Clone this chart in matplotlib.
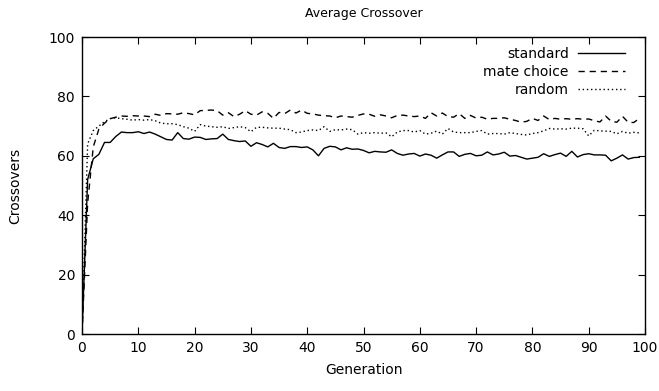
import numpy as np
import matplotlib
matplotlib.use("Agg")
import matplotlib.pyplot as plt

# average crossovers per generation
generations = list(range(100))

standard = [
    0, 52, 59, 60.5, 64.5, 64.5, 66.5, 68, 67.8, 67.8,
    68.1, 67.5, 68, 67.3, 66.4, 65.5, 65.3, 67.8, 65.8, 65.6,
    66.3, 66.2, 65.5, 65.7, 65.8, 67.3, 65.5, 65.1, 64.8, 65,
    63.2, 64.4, 63.8, 63, 64.2, 62.8, 62.5, 63.1, 63.1, 62.8,
    63, 62, 60, 62.5, 63.2, 63, 62, 62.7, 62.2, 62.3,
    61.8, 61, 61.5, 61.3, 61.2, 62, 60.8, 60.2, 60.6, 60.8,
    59.9, 60.6, 60.2, 59.2, 60.3, 61.3, 61.3, 59.8, 60.5, 60.8,
    60, 60.2, 61.3, 60.3, 60.6, 61.2, 59.9, 60.1, 59.5, 58.9,
    59.2, 59.5, 60.7, 59.8, 60.4, 60.9, 59.8, 61.5, 59.6, 60.4,
    60.7, 60.3, 60.3, 60.2, 58.3, 59.2, 60.3, 58.9, 59.4, 59.5,
]

mate_choice = [
    0, 44, 63, 69, 71, 72.5, 73, 73.4, 73.3, 73.5,
    73.4, 73.4, 73.2, 74, 73.6, 74.2, 74.1, 74, 74.5, 74.2,
    73.8, 75.2, 75.3, 75.4, 75.2, 73.7, 74.5, 73.2, 74, 75.2,
    74, 73.7, 74.8, 74.3, 72.6, 74.6, 74.2, 75.4, 74.4, 75.4,
    74.3, 74.1, 73.7, 73.5, 73.4, 72.8, 73.4, 73.2, 73, 73.6,
    74.1, 74, 73.3, 73.8, 73.4, 72.8, 73.6, 73.7, 73.4, 73.2,
    73.4, 72.6, 74.5, 73.4, 74.4, 73.2, 73, 74.2, 72.6, 73.6,
    72.7, 73, 72.3, 72.6, 72.6, 72.8, 72.3, 71.9, 71.3, 71.6,
    72.6, 71.9, 73.4, 72.2, 72.6, 72.3, 72.5, 72.3, 72.5, 72.3,
    72.4, 71.8, 71.4, 73.4, 71.6, 71.3, 73.3, 71.3, 71.2, 72.6,
]

random_sel = [
    0, 64, 68.5, 70, 71.5, 72.5, 72.8, 72.5, 72.3, 72,
    72.2, 72, 72.2, 71.8, 71, 70.8, 70.8, 70.5, 69.8, 69.3,
    68.2, 70.5, 70, 69.8, 69.6, 69.8, 69.2, 69.5, 69.8, 69.5,
    68.1, 69.6, 69.6, 69.4, 69.3, 69.3, 69, 68.8, 67.8, 68,
    68.5, 68.7, 68.5, 69.8, 68.2, 68.8, 68.7, 69, 68.8, 67.3,
    67.8, 67.6, 67.8, 67.6, 67.7, 66.4, 68, 68.5, 68.5, 68,
    68.5, 67.3, 67.6, 68.3, 67.3, 69.2, 68, 67.8, 67.8, 67.8,
    68.2, 68.5, 67.3, 67.5, 67.5, 67.3, 67.8, 67.5, 67.2, 67,
    67.5, 67.8, 68.4, 69.2, 69, 69.1, 69, 69.3, 69.3, 69.1,
    66.7, 68.6, 68.4, 68.3, 68.2, 67.4, 68.2, 67.6, 67.9, 67.7,
]

xticks = list(range(0, 101, 10))
yticks = list(range(0, 101, 20))

plt.rcParams['font.family'] = ['DejaVu Sans']
fig = plt.figure(figsize=(6.59, 3.91), dpi=100)
ax = fig.add_axes([82/659, 1 - 334/391, (645 - 82)/659, (334 - 37)/391])

ax.plot(generations, standard, color='black', lw=1.0, ls='-', label='standard')
ax.plot(generations, mate_choice, color='black', lw=1.0, ls=(0, (4.5, 3.5)), label='mate choice')
ax.plot(generations, random_sel, color='black', lw=1.0, ls=(0, (1, 2)), label='random')

ax.set_xlim(0, 100)
ax.set_ylim(0, 100)
ax.set_xticks(xticks)
ax.set_yticks(yticks)
ax.tick_params(direction='in', length=5, width=0.8, top=True, right=True,
               labelsize=10, pad=5)
for s in ax.spines.values():
    s.set_linewidth(1.0)

ax.set_xlabel('Generation', fontsize=10, labelpad=6)
ax.set_ylabel('Crossovers', fontsize=10, labelpad=19)
fig.text(0.5 * (82 + 645) / 659, 1 - 13/391, 'Average Crossover', ha='center', va='center', fontsize=9)

ax.legend(loc='upper right', bbox_to_anchor=(1 - 20/563, 1 - 10/297), frameon=False,
          markerfirst=False, handlelength=3.4, handletextpad=0.65,
          labelspacing=0.28, borderpad=0, borderaxespad=0, fontsize=10)

fig.savefig('out.png', dpi=100)
